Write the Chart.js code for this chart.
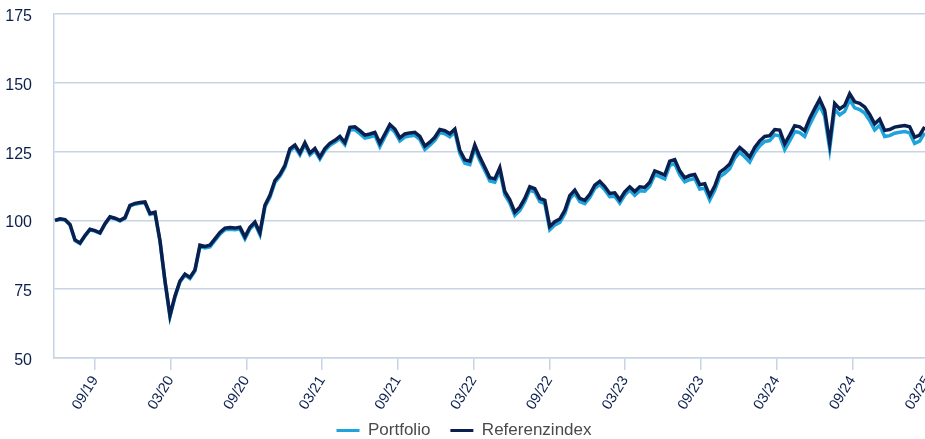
<!DOCTYPE html>
<html>
<head>
<meta charset="utf-8">
<script src="https://cdn.jsdelivr.net/npm/chart.js@4.4.1/dist/chart.umd.min.js"></script>
<style>
  html, body { margin: 0; padding: 0; background: #fff; overflow: hidden; }
  #wrap { position: relative; width: 928px; height: 439px; }
</style>
</head>
<body>
<div id="wrap"><canvas id="chart"></canvas></div>
<script>
// Werte etwa alle 12 Tage, Start Ende Mai 2019 (Monate ab 06/2019)
const firstMonth = -0.17;
const stepMonths = 0.396;

const referenzindex = [
  100.0, 100.6, 100.3, 98.5, 92.9, 91.8, 94.5, 96.8, 96.3, 95.5,
  98.8, 101.3, 100.8, 100.0, 101.0, 105.5, 106.2, 106.5, 106.7, 102.5,
  103.0, 92.7, 78.1, 65.5, 72.5, 78.0, 80.5, 79.3, 82.0, 91.0,
  90.5, 91.0, 93.3, 95.6, 97.2, 97.4, 97.2, 97.5, 94.0, 97.5,
  99.4, 95.5, 105.5, 109.1, 114.5, 116.7, 120.0, 126.0, 127.4, 124.5,
  128.2, 124.5, 126.1, 123.0, 126.1, 128.0, 129.1, 130.5, 128.3, 133.8,
  134.0, 132.6, 131.0, 131.4, 132.0, 128.0, 131.4, 134.8, 133.2, 130.0,
  131.4, 131.8, 132.0, 130.5, 127.0, 128.4, 130.2, 133.0, 132.6, 131.5,
  133.2, 125.5, 122.0, 121.5, 127.4, 123.0, 119.3, 115.5, 115.1, 119.2,
  110.5, 107.5, 103.0, 104.8, 108.0, 112.2, 111.5, 108.0, 107.3, 97.8,
  99.5, 100.5, 103.6, 109.0, 111.0, 108.0, 107.3, 109.5, 112.8, 114.2,
  112.3, 109.8, 110.0, 107.5, 110.4, 112.2, 110.5, 112.2, 112.0, 113.9,
  118.0, 117.3, 116.5, 121.5, 122.1, 118.0, 115.5, 116.3, 116.7, 113.0,
  113.3, 109.0, 112.5, 117.5, 118.8, 120.5, 124.3, 126.5, 124.9, 123.0,
  126.5, 128.9, 130.5, 130.8, 133.0, 132.8, 127.8, 131.0, 134.4, 134.0,
  132.6, 137.0, 140.6, 144.0, 140.0, 128.0, 142.5, 140.5, 141.8, 146.0,
  143.1, 142.5, 141.2, 138.5, 135.1, 136.8, 132.7, 133.0, 133.9, 134.2,
  134.5, 134.0, 130.2, 131.0, 134.0
];

const portfolio = [
  99.9, 100.4, 100.1, 98.3, 92.7, 91.6, 94.3, 96.6, 96.1, 95.3,
  98.6, 101.1, 100.6, 99.8, 100.8, 105.2, 105.9, 106.2, 106.4, 102.2,
  102.7, 92.4, 77.8, 65.0, 72.1, 77.6, 80.1, 78.9, 81.6, 90.5,
  90.0, 90.4, 92.7, 95.0, 96.6, 96.8, 96.6, 96.9, 93.3, 96.9,
  98.8, 94.8, 104.9, 108.4, 113.8, 116.0, 119.3, 125.3, 126.7, 123.8,
  127.5, 123.8, 125.4, 122.3, 125.4, 127.3, 128.4, 129.7, 127.5, 132.8,
  133.0, 131.5, 129.9, 130.3, 130.9, 126.8, 130.3, 133.7, 132.1, 128.9,
  130.3, 130.7, 130.9, 129.4, 125.8, 127.3, 129.1, 131.9, 131.5, 130.4,
  132.1, 124.3, 120.8, 120.3, 126.2, 121.8, 118.1, 114.3, 113.9, 118.0,
  109.3, 106.3, 101.8, 103.6, 106.8, 111.0, 110.3, 106.8, 106.1, 96.6,
  98.3, 99.3, 102.4, 107.8, 109.8, 106.8, 106.1, 108.3, 111.6, 113.0,
  111.1, 108.6, 108.8, 106.3, 109.2, 111.0, 109.1, 110.8, 110.6, 112.5,
  116.6, 115.9, 115.1, 120.0, 120.6, 116.5, 114.0, 114.8, 115.2, 111.4,
  111.7, 107.4, 110.9, 115.8, 117.1, 118.8, 122.6, 124.8, 123.1, 121.2,
  124.7, 127.1, 128.7, 129.0, 131.1, 130.7, 125.7, 128.9, 132.3, 131.9,
  130.5, 134.8, 138.4, 141.8, 137.8, 126.0, 140.3, 138.3, 139.6, 143.8,
  140.9, 140.3, 139.0, 136.3, 132.9, 134.6, 130.5, 130.8, 131.7, 132.0,
  132.3, 131.8, 128.0, 128.8, 131.8
];

// Achsenbeschriftung: Monat ab 06/2019 -> Label
const tickMonths = [3, 9, 15, 21, 27, 33, 39, 45, 51, 57, 63, 69];
const tickLabels = ['09/19', '03/20', '09/20', '03/21', '09/21', '03/22',
                    '09/22', '03/23', '09/23', '03/24', '09/24', '03/25'];

const yTicks = [50, 75, 100, 125, 150, 175];

const navy = '#0b1f4e';
const lightBlue = '#1ea3dd';
const gridColor = '#c8d4e4';
const fontFamily = 'Liberation Sans';

function toPoints(values) {
  return values.map((v, i) => ({ x: firstMonth + i * stepMonths, y: v }));
}

// keine automatischen Randabstaende der Achsen
function noPadding(axis) {
  axis.paddingLeft = 0;
  axis.paddingRight = 0;
  axis.paddingTop = 0;
  axis.paddingBottom = 0;
}

const ctx = document.getElementById('chart').getContext('2d');
const myChart = new Chart(ctx, {
  type: 'line',
  data: {
    datasets: [
      {
        label: 'Portfolio',
        data: toPoints(portfolio),
        borderColor: lightBlue,
        backgroundColor: lightBlue,
        borderWidth: 3.5,
        pointRadius: 0,
        tension: 0,
        order: 1
      },
      {
        label: 'Referenzindex',
        data: toPoints(referenzindex),
        borderColor: navy,
        backgroundColor: navy,
        borderWidth: 3.5,
        pointRadius: 0,
        tension: 0,
        order: 0
      }
    ]
  },
  options: {
    responsive: true,
    maintainAspectRatio: false,
    animation: false,
    layout: { padding: { left: 0, top: 14, right: 0, bottom: -10 } },
    plugins: {
      tooltip: { enabled: false },
      legend: {
        position: 'bottom',
        labels: {
          boxWidth: 23,
          boxHeight: 3,
          padding: 20,
          color: '#4a4a4a',
          font: { family: fontFamily, size: 17 },
          sort: (a, b) => a.datasetIndex - b.datasetIndex,
          generateLabels: (chart) => {
            const items = Chart.defaults.plugins.legend.labels.generateLabels(chart);
            return items.map(it => Object.assign(it, { lineWidth: 0, fillStyle: it.strokeStyle }));
          }
        }
      }
    },
    scales: {
      x: {
        type: 'linear',
        min: -0.25,
        max: 69,
        afterBuildTicks: (axis) => {
          axis.ticks = tickMonths.map(m => ({ value: m }));
        },
        afterFit: (axis) => {
          noPadding(axis);
          axis.height = 44;
          // Beschriftung darf in den Legendenbereich reichen
          axis._computeLabelArea = () => undefined;
        },
        grid: {
          drawOnChartArea: false,
          drawTicks: true,
          tickLength: 12,
          color: gridColor,
          lineWidth: 1.5
        },
        border: { color: gridColor, width: 1.5 },
        ticks: {
          autoSkip: false,
          minRotation: 58,
          maxRotation: 58,
          padding: 3,
          color: navy,
          font: { family: fontFamily, size: 14.5 },
          callback: (value) => {
            const i = tickMonths.indexOf(value);
            return i >= 0 ? tickLabels[i] : '';
          }
        }
      },
      y: {
        min: 50,
        max: 175,
        afterBuildTicks: (axis) => {
          axis.ticks = yTicks.map(v => ({ value: v }));
        },
        afterFit: (axis) => {
          noPadding(axis);
          axis.width = 54;
        },
        grid: {
          drawTicks: false,
          color: gridColor,
          lineWidth: 1.5
        },
        border: { color: gridColor, width: 1.5 },
        ticks: {
          padding: 22,
          labelOffset: 2.5,
          color: navy,
          font: { family: fontFamily, size: 16 }
        }
      }
    }
  }
});
</script>
</body>
</html>
